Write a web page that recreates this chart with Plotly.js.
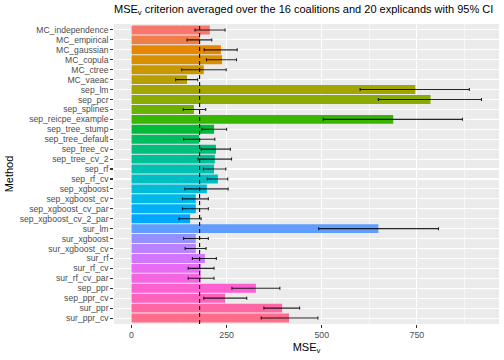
<!DOCTYPE html>
<html>
<head>
<meta charset="utf-8">
<script src="https://cdn.plot.ly/plotly-3.0.1.min.js"></script>
<style>html,body{margin:0;padding:0;background:#fff;}#chart{width:504px;height:360px;}</style>
</head>
<body>
<div id="chart"></div>
<script>
const methods = ["MC_independence","MC_empirical","MC_gaussian","MC_copula","MC_ctree","MC_vaeac",
  "sep_lm","sep_pcr","sep_splines","sep_reicpe_example","sep_tree_stump","sep_tree_default",
  "sep_tree_cv","sep_tree_cv_2","sep_rf","sep_rf_cv","sep_xgboost","sep_xgboost_cv",
  "sep_xgboost_cv_par","sep_xgboost_cv_2_par","sur_lm","sur_xgboost","sur_xgboost_cv",
  "sur_rf","sur_rf_cv","sur_rf_cv_par","sep_ppr","sep_ppr_cv","sur_ppr","sur_ppr_cv"];
const mseMean = [206,180,235,238,190,146,746,786,164,688,217,178,222,219,217,227,198,169,169,154,649,169,169,193,182,182,327,246,396,414];
const ciLower = [167,146,191,197,132,116,601,649,136,504,185,137,183,175,189,199,140,134,134,125,492,137,141,160,149,149,264,190,348,341];
const ciUpper = [246,211,278,276,249,174,888,920,195,870,250,219,260,263,248,253,254,202,202,183,807,202,196,223,217,217,390,303,442,490];
const refLine = 179;
const xTicks = [0,250,500,750];

function hcl(h, c, l) {
  const Xn = 95.047, Yn = 100, Zn = 108.883;
  const hr = h * Math.PI / 180;
  const U = c * Math.cos(hr), V = c * Math.sin(hr);
  const Y = Yn * (l > 8 ? Math.pow((l + 16) / 116, 3) : l / 903.3);
  const t = Xn + 15 * Yn + 3 * Zn;
  const un = 4 * Xn / t, vn = 9 * Yn / t;
  const u = U / (13 * l) + un, v = V / (13 * l) + vn;
  const X = Y * 9 * u / (4 * v);
  const Z = Y * (12 - 3 * u - 20 * v) / (4 * v);
  const x = X / 100, y = Y / 100, z = Z / 100;
  let r = 3.240479 * x - 1.537150 * y - 0.498535 * z;
  let g = -0.969256 * x + 1.875992 * y + 0.041556 * z;
  let b = 0.055648 * x - 0.204043 * y + 1.057311 * z;
  const gam = s => { s = s <= 0.0031308 ? 12.92 * s : 1.055 * Math.pow(s, 1 / 2.4) - 0.055; return Math.round(Math.min(1, Math.max(0, s)) * 255); };
  return 'rgb(' + gam(r) + ',' + gam(g) + ',' + gam(b) + ')';
}
const n = methods.length;
const colors = methods.map((m, i) => hcl(15 + 360 * i / n, 100, 65));

const trace = {
  type: 'bar', orientation: 'h',
  x: mseMean, y: methods,
  marker: {color: colors, line: {width: 0}},
  error_x: {
    type: 'data', symmetric: false,
    array: ciUpper.map((u, i) => u - mseMean[i]),
    arrayminus: mseMean.map((m, i) => m - ciLower[i]),
    color: 'rgba(0,0,0,0.85)', thickness: 1.1, width: 1.5
  },
  hoverinfo: 'x+y'
};

const font = 'Liberation Sans, Arial, Helvetica, sans-serif';
const layout = {
  width: 504, height: 360,
  margin: {l: 114, r: 5, t: 24, b: 36, pad: 0},
  paper_bgcolor: '#ffffff', plot_bgcolor: '#EBEBEB',
  font: {family: font, color: '#000'},
  showlegend: false,
  bargap: 0.1,
  title: {
    text: 'MSE<sub>v</sub> criterion averaged over the 16 coalitions and 20 explicands with 95% CI',
    font: {size: 11, family: font, color: '#000'},
    x: 114 / 504, xref: 'container', xanchor: 'left',
    y: 1 - 9 / 360, yref: 'container', yanchor: 'middle'
  },
  xaxis: {
    range: [-46, 966], tickmode: 'array', tickvals: xTicks, ticktext: xTicks.map(String),
    showgrid: true, gridcolor: '#ffffff', gridwidth: 1.07,
    minor: {dtick: 125, tick0: 0, showgrid: true, gridcolor: '#ffffff', gridwidth: 0.53},
    zeroline: false, showline: false,
    ticks: 'outside', ticklen: 2.75, tickwidth: 1.07, tickcolor: '#333333',
    tickfont: {size: 8.8, color: '#4D4D4D', family: font},
    title: {text: 'MSE<sub>v</sub>', font: {size: 11, color: '#000', family: font}, standoff: 3},
    fixedrange: true
  },
  yaxis: {
    type: 'category', categoryorder: 'array', categoryarray: methods,
    tickmode: 'array', tickvals: methods, ticktext: methods,
    range: [n - 1 + 0.6, -0.6],
    showgrid: true, gridcolor: '#ffffff', gridwidth: 1.07,
    zeroline: false, showline: false,
    ticks: 'outside', ticklen: 2.75, tickwidth: 1.07, tickcolor: '#333333',
    tickfont: {size: 8.6, color: '#4D4D4D', family: font},
    title: {text: 'Method', font: {size: 11, color: '#000', family: font}, standoff: 3},
    fixedrange: true
  },
  shapes: [{
    type: 'line', xref: 'x', yref: 'paper', x0: refLine, x1: refLine, y0: 0, y1: 1,
    line: {color: '#000', width: 1.1, dash: '4px,3px'}
  }]
};

Plotly.newPlot('chart', [trace], layout, {displayModeBar: false, staticPlot: true});
</script>
</body>
</html>
